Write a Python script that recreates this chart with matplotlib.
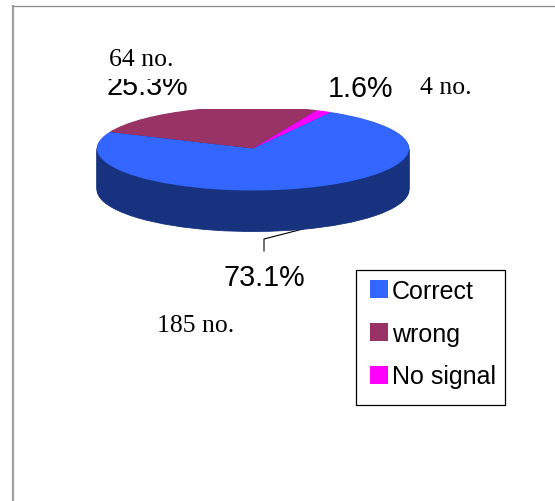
import matplotlib
matplotlib.use('Agg')
import numpy as np
import matplotlib.pyplot as plt
from matplotlib.patches import Rectangle

labels = ['Correct', 'wrong', 'No signal']
percent = [73.1, 25.3, 1.6]
counts = [185, 64, 4]
colors = ['#3366FF', '#993366', '#FF00FF']
side_color = '#17337F'

W, H = 555, 502
fig = plt.figure(figsize=(W / 100, H / 100), dpi=100, facecolor='white')

# full figure axes in pixels for frame, text and leader line
bg = fig.add_axes([0, 0, 1, 1])
bg.set_xlim(0, W)
bg.set_ylim(H, 0)
bg.axis('off')
bg.plot([13, 13], [7, H], color='#a0a0a0', lw=1.6)
bg.plot([13, W], [7, 7], color='#8c8c8c', lw=0.9)

# pie: top face plus stacked copies for the rim, squashed by the axes shape
cx, cy, rx, ry = 253, 149.5, 156, 42
depth = 41
top = 110
bottom = cy + ry + depth + 2
ax = fig.add_axes([(cx - rx - 2) / W, 1 - bottom / H, (2 * rx + 4) / W, (bottom - top) / H])
ax.patch.set_alpha(0)
for d in np.arange(depth, 0, -1.0):
    ax.pie(percent, startangle=60, counterclock=False, colors=[side_color] * 3,
           center=(0, -d / ry), radius=1,
           wedgeprops={'lw': 0.6, 'ec': side_color, 'clip_on': True})
wedges, _ = ax.pie(percent, startangle=60, counterclock=False, colors=colors,
                   center=(0, 0), radius=1, wedgeprops={'lw': 0, 'clip_on': True})
ax.set_aspect('auto')
ax.set_xlim(-(rx + 2) / rx, (rx + 2) / rx)
ax.set_ylim(-(bottom - cy) / ry, (cy - top) / ry)
ax.axis('off')
for w in wedges:
    w.set_clip_path(ax.patch)

# percentage labels and counts
sans = {'family': 'Liberation Sans', 'color': 'black', 'fontsize': 20.7}
serif = {'family': 'Liberation Serif', 'color': 'black', 'fontsize': 18.5}
bg.text(264, 278, f'{percent[0]}%', ha='center', va='center', **sans)
bg.text(147, 87, f'{percent[1]}%', ha='center', va='center', zorder=3, **sans)
bg.text(360, 89, f'{percent[2]}%', ha='center', va='center', **sans)
# the box of the count label covers the upper part of the percentage under it
bg.add_patch(Rectangle((100, 40), 100, 40, fc='white', ec='none', zorder=4))
bg.text(196, 326, f'{counts[0]} no.', ha='center', va='center', **serif)
bg.text(141, 60, f'{counts[1]} no.', ha='center', va='center', zorder=5, **serif)
bg.text(446, 88.5, f'{counts[2]} no.', ha='center', va='center', **serif)
bg.plot([303, 264, 264], [230, 240, 252], color='black', lw=0.8)

bg.add_patch(Rectangle((356, 270.5), 149, 135, fc='white', ec='black', lw=0.9, zorder=6))
leg = fig.legend(wedges, labels, loc='lower left',
                 bbox_to_anchor=(357 / W, 1 - 402 / H), bbox_transform=fig.transFigure,
                 prop={'family': 'Liberation Sans', 'size': 18}, frameon=False,
                 handlelength=0.72, handleheight=0.72,
                 handletextpad=0.17, labelspacing=0.75, borderpad=0.5, borderaxespad=0)

fig.savefig('out.png', dpi=100)
